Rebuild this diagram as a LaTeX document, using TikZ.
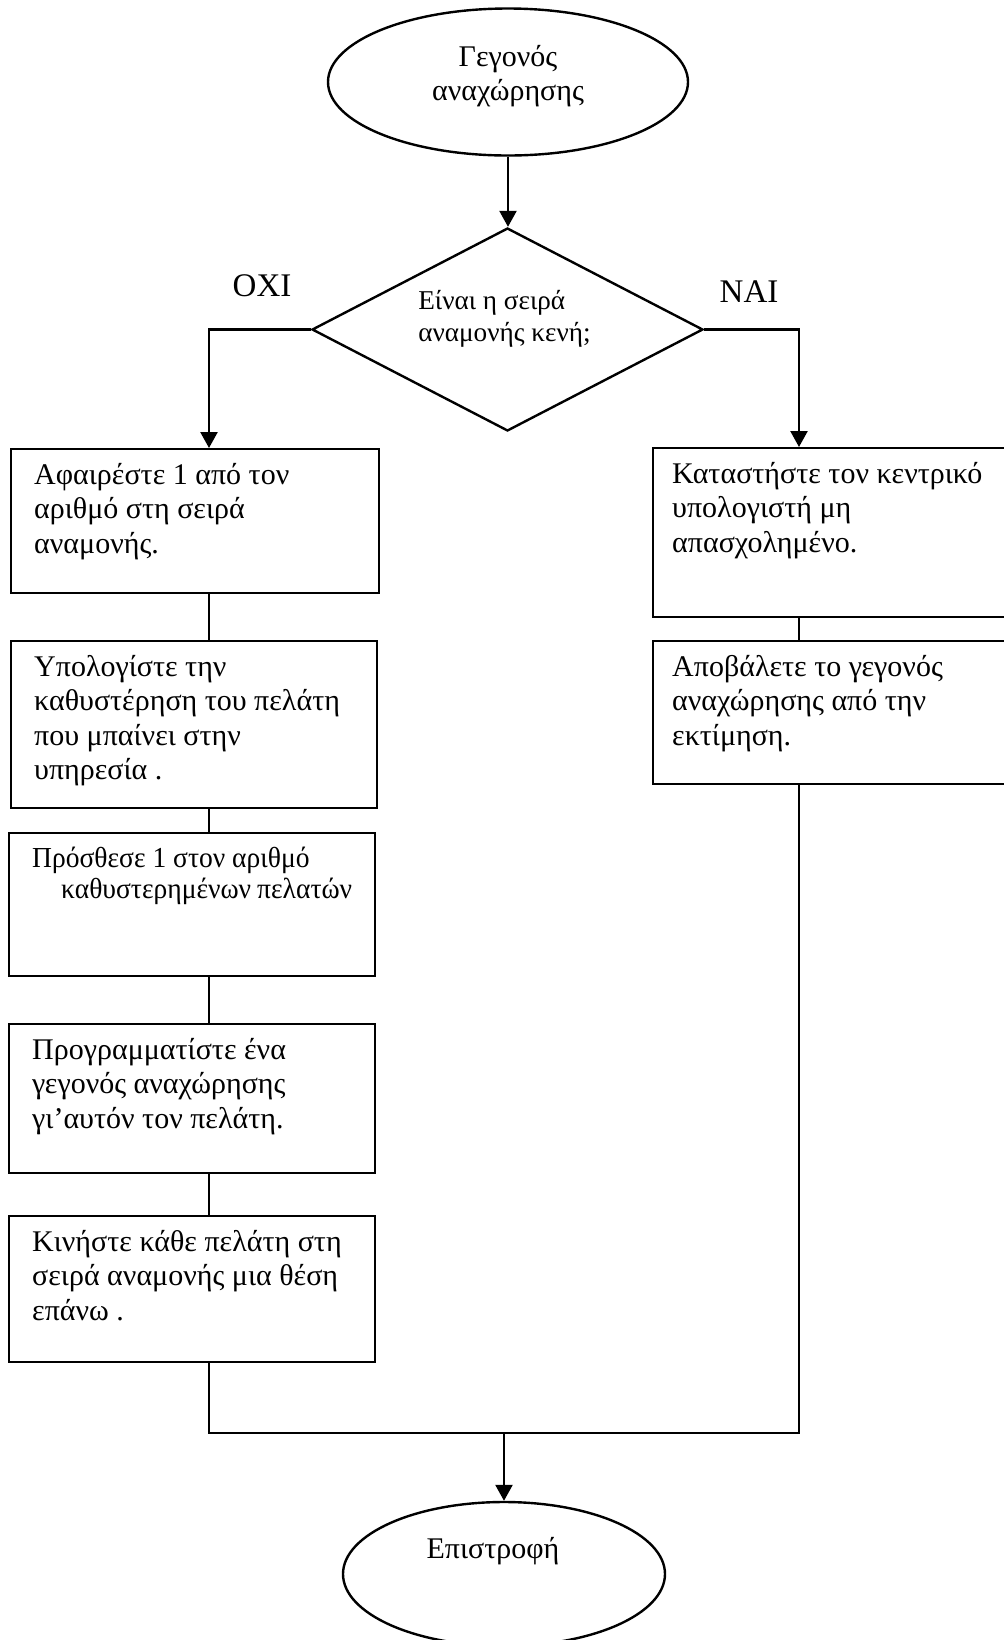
\documentclass[tikz,border=0pt]{standalone}
\usepackage{fontspec}
\setmainfont{Liberation Serif}
\newfontfamily\narrowserif[FakeStretch=0.95]{Liberation Serif}
\usetikzlibrary{arrows.meta,positioning,shapes.geometric}

% box text: height, width, top gap, lines
\newcommand{\boxtext}[4]{\parbox[t][#1][t]{#2}{\vspace{#3}\raggedright\strut#4}}

\begin{document}
\begin{tikzpicture}[x=0.5pt, y=-0.5pt, line width=1.2pt,
  every node/.style={font=\fontsize{15pt}{17.2pt}\selectfont},
  procbox/.style={draw, rectangle, inner xsep=11.5pt, inner ysep=0pt, anchor=north west},
  terminal/.style={draw, ellipse, inner sep=0pt},
  decision/.style={draw, diamond, inner sep=0pt, minimum width=195.5pt, minimum height=101.5pt},
  dectext/.style={font=\fontsize{13.6pt}{16pt}\selectfont, align=left},
  branch/.style={font=\fontsize{16.5pt}{18pt}\selectfont},
  arr/.style={-{Triangle[length=8pt,width=8.5pt]}}]
  \useasboundingbox (0,0) rectangle (1003,1640);

  % start and decision
  \node[terminal, minimum width=180pt, minimum height=73.5pt,
    label={[align=center, yshift=3pt]center:Γεγονός\\αναχώρησης}] (start) at (508,82) {};
  \node[decision, label={[dectext, xshift=-1.5pt, yshift=5.25pt]center:Είναι η σειρά\\αναμονής κενή;}] (dec) at (507.5,329.5) {};
  \node[branch] (no) at (262,286) {ΟΧΙ};
  \node[branch] (yes) at (749,292) {ΝΑΙ};

  % left column
  \node[procbox] (b1) at (10,448) {\boxtext{72pt}{161pt}{5.6pt}{Αφαιρέστε 1 από τον\\αριθμό στη σειρά\\αναμονής.}};
  \node[procbox] (b2) at (10,640) {\boxtext{83.5pt}{160pt}{5.6pt}{Υπολογίστε την\\καθυστέρηση του πελάτη\\που μπαίνει στην\\υπηρεσία .}};
  \node[procbox] (b3) at (8,832) {\boxtext{71.5pt}{160pt}{5.2pt}{\narrowserif\fontsize{14.5pt}{15.5pt}\selectfont\strut Πρόσθεσε 1 στον αριθμό\\\hspace*{14.5pt}καθυστερημένων πελατών}};
  \node[procbox] (b4) at (8,1023) {\boxtext{74.5pt}{160pt}{5.6pt}{Προγραμματίστε ένα\\γεγονός αναχώρησης\\γι’αυτόν τον πελάτη.}};
  \node[procbox] (b5) at (8,1215) {\boxtext{73pt}{160pt}{5.6pt}{Κινήστε κάθε πελάτη στη\\σειρά αναμονής μια θέση\\επάνω .}};

  % right column
  \node[procbox, inner xsep=9.5pt] (r1) at (652,447) {\boxtext{84.5pt}{200pt}{5.6pt}{Καταστήστε τον κεντρικό\\υπολογιστή μη\\απασχολημένο.}};
  \node[procbox, inner xsep=9.5pt] (r2) at (652,640) {\boxtext{71.5pt}{200pt}{5.6pt}{Αποβάλετε το γεγονός\\αναχώρησης από την\\εκτίμηση.}};

  % end
  \node[terminal, minimum width=161pt, minimum height=72pt,
    label={[font=\fontsize{15pt}{17pt}\selectfont, xshift=-5.5pt, yshift=11.5pt]center:Επιστροφή}] (end) at (504,1574) {};

  % connectors
  \coordinate (lx) at (209,0);
  \coordinate (rx) at (799,0);
  \coordinate (merge) at (504,1433);
  \draw[arr] (start.south) -- (start.south |- dec.north);
  \draw[arr] (dec.west) -| (b1.north -| lx);
  \draw[arr] (dec.east) -| (r1.north -| rx);
  \foreach \a/\b in {b1/b2, b2/b3, b3/b4, b4/b5}
    \draw (\a.south -| lx) -- (\b.north -| lx);
  \draw (r1.south -| rx) -- (r2.north -| rx);
  \draw (b5.south -| lx) |- (merge) -| (r2.south -| rx);
  \draw[arr] (merge) -- (end);
\end{tikzpicture}
\end{document}
